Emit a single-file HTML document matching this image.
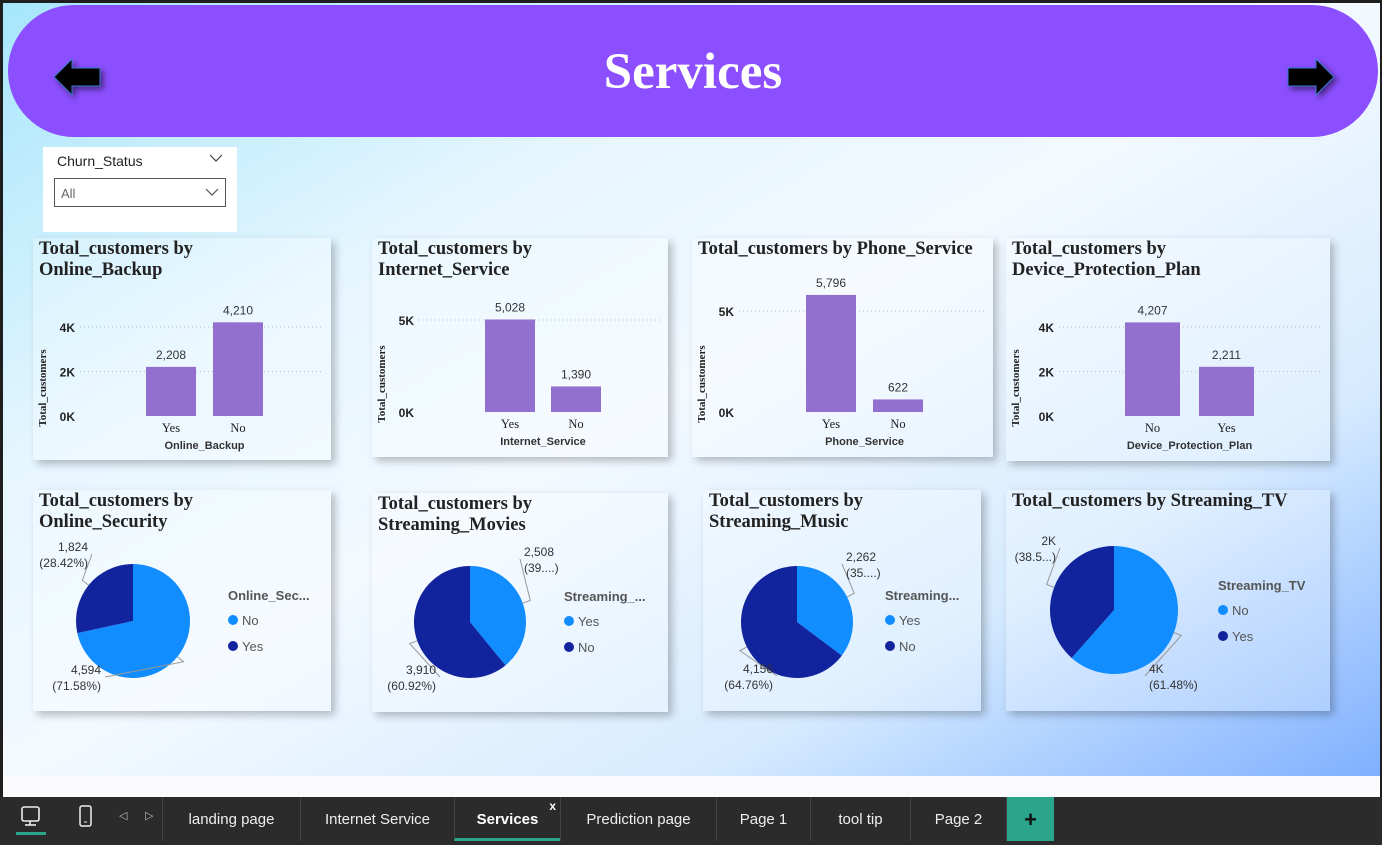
<!DOCTYPE html>
<html><head><meta charset="utf-8">
<style>
*{box-sizing:border-box;margin:0;padding:0}
body{width:1382px;height:845px;overflow:hidden;background:#1e1e1e;font-family:"Liberation Sans",sans-serif;position:relative}
#canvas{position:absolute;left:3px;top:3px;width:1377px;height:773px;background:linear-gradient(150deg,#a6e6fb 0%,#e6f6ff 30%,#f3f9ff 50%,#d6ebff 75%,#7fb0ff 100%)}
#strip{position:absolute;left:3px;top:776px;width:1377px;height:21px;background:#fbfbfd}
#header{position:absolute;left:8px;top:5px;width:1370px;height:132px;border-radius:66px;background:#8c4fff}
#header h1{position:absolute;left:0;right:0;top:38px;text-align:center;font-family:"Liberation Serif",serif;font-weight:bold;font-size:51px;color:#fff}
.arrow{position:absolute;top:52px;width:50px;height:40px;filter:drop-shadow(3px 3px 3px rgba(0,0,0,.5))}
.card{position:absolute;background:rgba(255,255,255,.25);box-shadow:4px 4px 8px rgba(0,0,0,.25)}
.card svg{position:absolute;left:0;top:0}
.title{position:absolute;left:6px;top:1px;font-family:"Liberation Serif",serif;font-weight:bold;font-size:18.5px;color:#222;line-height:21px;white-space:nowrap}
#slicer{position:absolute;left:43px;top:147px;width:194px;height:85px;background:#fff}
#tabs{position:absolute;left:0;top:797px;width:1382px;height:48px;background:#2b2b2b}
.tab{position:absolute;top:0;height:44px;border-left:1px solid #444;color:#eee;font-size:15px;text-align:center;line-height:46px}
</style></head><body>
<div id="canvas"></div>
<div id="strip"></div>
<div id="header">
<h1>Services</h1>
<svg class="arrow" style="left:44px" viewBox="0 0 50 40"><polygon points="2,20 20,2 20,11 48,11 48,29 20,29 20,38" fill="#000" stroke="#3a7bd5" stroke-width="1"/></svg>
<svg class="arrow" style="left:1278px" viewBox="0 0 50 40"><polygon points="48,20 30,2 30,11 2,11 2,29 30,29 30,38" fill="#000" stroke="#3a7bd5" stroke-width="1"/></svg>
</div>
<div id="slicer">
<div style="position:absolute;left:14px;top:6px;font-size:14px;color:#222">Churn_Status</div>
<svg style="position:absolute;left:166px;top:7px" width="14" height="9"><polyline points="1,1 7,7 13,1" fill="none" stroke="#444" stroke-width="1.2"/></svg>
<div style="position:absolute;left:11px;top:31px;width:172px;height:29px;border:1px solid #555;font-size:13px;color:#666;padding:7px 0 0 6px">All<svg style="position:absolute;right:6px;top:9px" width="14" height="9"><polyline points="1,1 7,7 13,1" fill="none" stroke="#555" stroke-width="1.2"/></svg></div>
</div>
<div id="cards"></div>
<div id="tabs">
<svg style="position:absolute;left:20px;top:8px" width="22" height="30"><rect x="2" y="2" width="17" height="14" rx="2" fill="none" stroke="#eee" stroke-width="1.6"/><line x1="10" y1="16" x2="10" y2="20" stroke="#eee" stroke-width="1.6"/><line x1="5" y1="20" x2="16" y2="20" stroke="#eee" stroke-width="1.6"/></svg>
<div style="position:absolute;left:16px;top:35px;width:30px;height:3px;background:#2aa58b"></div>
<svg style="position:absolute;left:78px;top:8px" width="16" height="24"><rect x="2" y="1" width="11" height="20" rx="2" fill="none" stroke="#eee" stroke-width="1.5"/><line x1="6" y1="17" x2="9" y2="17" stroke="#eee"/></svg>
<div style="position:absolute;left:119px;top:12px;color:#bbb;font-size:11px">&#9665;</div>
<div style="position:absolute;left:145px;top:12px;color:#bbb;font-size:11px">&#9655;</div>
<div class="tab" style="left:162px;width:138px">landing page</div>
<div class="tab" style="left:300px;width:154px">Internet Service</div>
<div class="tab" style="left:454px;width:106px;font-weight:bold;color:#fff;border-bottom:3px solid #2aa58b">Services<span style="position:absolute;right:4px;top:-14px;font-size:12px">x</span></div>
<div class="tab" style="left:560px;width:156px">Prediction page</div>
<div class="tab" style="left:716px;width:94px">Page 1</div>
<div class="tab" style="left:810px;width:100px">tool tip</div>
<div class="tab" style="left:910px;width:96px">Page 2</div>
<div class="tab" style="left:1006px;width:48px;background:#2aa58b;font-size:22px;font-weight:bold;color:#111;height:44px">+</div>
</div>
<script>
// Bar chart data
const barTitles=[["Total_customers by","Online_Backup"],["Total_customers by","Internet_Service"],["Total_customers by Phone_Service"],["Total_customers by","Device_Protection_Plan"]];
const barAxisTitles=["Online_Backup","Internet_Service","Phone_Service","Device_Protection_Plan"];
const barCats=[["Yes","No"],["Yes","No"],["Yes","No"],["No","Yes"]];
const barValues=[[2208,4210],[5028,1390],[5796,622],[4207,2211]];
const barTicks=[[0,2000,4000],[0,5000],[0,5000],[0,2000,4000]];
const barTickLabels=[["0K","2K","4K"],["0K","5K"],["0K","5K"],["0K","2K","4K"]];
// Pie data
const pieTitles=[["Total_customers by","Online_Security"],["Total_customers by","Streaming_Movies"],["Total_customers by","Streaming_Music"],["Total_customers by Streaming_TV"]];
const pieLegendTitles=["Online_Sec...","Streaming_...","Streaming...","Streaming_TV"];
const pieCats=[["No","Yes"],["Yes","No"],["Yes","No"],["No","Yes"]];
const pieValues=[[4594,1824],[2508,3910],[2262,4156],[3948,2470]];
const pieLabels=[[["4,594","(71.58%)"],["1,824","(28.42%)"]],[["2,508","(39....)"],["3,910","(60.92%)"]],[["2,262","(35....)"],["4,156","(64.76%)"]],[["4K","(61.48%)"],["2K","(38.5...)"]]];

const NS="http://www.w3.org/2000/svg";
const cardsEl=document.getElementById('cards');
function mk(tag,attrs,parent){const e=document.createElementNS(NS,tag);for(const k in attrs)e.setAttribute(k,attrs[k]);parent.appendChild(e);return e;}
function txt(parent,x,y,s,attrs){const t=mk('text',Object.assign({x:x,y:y},attrs),parent);t.textContent=s;return t;}
function card(x,y,w,h,name,title){
  const d=document.createElement('div');d.className='card';
  d.style.cssText=`left:${x}px;top:${y}px;width:${w}px;height:${h}px`;
  
  
  const t=document.createElement('div');t.className='title';t.innerHTML=title.join('<br>');
  
  
  d.appendChild(t);cardsEl.appendChild(d);
  const s=document.createElementNS(NS,'svg');s.setAttribute('width',w);s.setAttribute('height',h);d.appendChild(s);
  return s;
}
const barBoxes=[{x:33,y:238,w:298,h:222,base:178,pxPerUnit:89/4000,x0:113,bw:50,gap:17,ly:13,tx:42},
{x:372,y:238,w:296,h:219,base:174,pxPerUnit:92/5000,x0:113,bw:50,gap:16,ly:13,tx:42},
{x:692,y:238,w:301,h:219,base:174,pxPerUnit:101/5000,x0:114,bw:50,gap:17,ly:13,tx:42},
{x:1006,y:238,w:324,h:223,base:178,pxPerUnit:89/4000,x0:119,bw:55,gap:19,ly:13,tx:48}];
barBoxes.forEach((b,i)=>{
  const s=card(b.x,b.y,b.w,b.h,'bar-chart-'+barAxisTitles[i].toLowerCase().replace(/_/g,'-'),barTitles[i]);
  const yS=v=>b.base-v*b.pxPerUnit;
  barTicks[i].forEach((t,j)=>{
    if(t>0){mk('line',{x1:b.tx+5,x2:b.w-8,y1:yS(t),y2:yS(t),stroke:'#bbb','stroke-dasharray':'1,3'},s);}
    const tl=txt(s,b.tx,yS(t)+5,barTickLabels[i][j],{'text-anchor':'end','font-size':12,'font-weight':'bold',fill:'#222'});
    
    
  });
  const yt=txt(s,0,0,'Total_customers',{transform:`translate(${b.ly},${b.base-28}) rotate(-90)`,'text-anchor':'middle','font-size':11,'font-weight':'bold','font-family':'Liberation Serif',fill:'#222'});
  
  
  barValues[i].forEach((v,j)=>{
    const x=b.x0+j*(b.bw+b.gap);
    const r=mk('rect',{x:x,y:yS(v),width:b.bw,height:v*b.pxPerUnit,fill:'#9370d0'},s);
    
    
    const vl=txt(s,x+b.bw/2,yS(v)-8,v.toLocaleString('en-US'),{'text-anchor':'middle','font-size':12,fill:'#333'});
    
    
    const cl=txt(s,x+b.bw/2,b.base+16,barCats[i][j],{'text-anchor':'middle','font-size':12.5,'font-family':'Liberation Serif',fill:'#222'});
    
    
  });
  const xt=txt(s,b.x0+b.bw+b.gap/2,b.base+33,barAxisTitles[i],{'text-anchor':'middle','font-size':11,'font-weight':'bold',fill:'#333'});
  
  
});
const pieBoxes=[{x:33,y:490,w:298,h:221,cx:100,cy:131,r:57,lx:195,ly:110,lbl:[[68,187,'end'],[55,64,'end']]},
{x:372,y:493,w:296,h:219,cx:98,cy:129,r:56,lx:192,ly:108,lbl:[[152,66,'start'],[64,184,'end']]},
{x:703,y:490,w:278,h:221,cx:94,cy:132,r:56,lx:182,ly:110,lbl:[[143,74,'start'],[70,186,'end']]},
{x:1006,y:490,w:324,h:221,cx:108,cy:120,r:64,lx:212,ly:100,lbl:[[143,186,'start'],[50,58,'end']]}];
const colors=['#118dff','#12239e'];
pieBoxes.forEach((p,i)=>{
  const s=card(p.x,p.y,p.w,p.h,'pie-chart-'+pieLegendTitles[i].toLowerCase().replace(/[_.]/g,''),pieTitles[i]);
  const tot=pieValues[i].reduce((a,b)=>a+b,0);let a0=0;
  pieValues[i].forEach((v,j)=>{
    const a1=a0+v/tot*2*Math.PI;
    const P=a=>[p.cx+p.r*Math.sin(a),p.cy-p.r*Math.cos(a)];
    const [x0,y0]=P(a0),[x1,y1]=P(a1);
    const path=mk('path',{d:`M${p.cx},${p.cy}L${x0},${y0}A${p.r},${p.r} 0 ${a1-a0>Math.PI?1:0} 1 ${x1},${y1}Z`,fill:colors[j]},s);
    
    
    const mid=(a0+a1)/2;const [ex,ey]=[p.cx+(p.r+8)*Math.sin(mid),p.cy-(p.r+8)*Math.cos(mid)];
    const [lx,ly,anc]=p.lbl[j];
    const [mx,my]=P(mid);
    mk('polyline',{points:`${mx},${my} ${ex},${ey} ${anc==='end'?lx+4:lx-4},${ly}`,fill:'none',stroke:'#999','stroke-width':1},s);
    const lbl=txt(s,lx,ly-3,pieLabels[i][j][0],{'text-anchor':anc,'font-size':12,fill:'#333'});
    
    
    const lbl2=txt(s,lx,ly+13,pieLabels[i][j][1],{'text-anchor':anc,'font-size':12,fill:'#333'});
    
    
    a0=a1;
  });
  const lt=txt(s,p.lx,p.ly,pieLegendTitles[i],{'font-size':13,'font-weight':'bold',fill:'#555'});
  
  
  pieCats[i].forEach((c,j)=>{
    const y=p.ly+24+j*26;
    mk('circle',{cx:p.lx+5,cy:y-4,r:5,fill:colors[j]},s);
    const e=txt(s,p.lx+14,y+1,c,{'font-size':13,fill:'#555'});
    
    
  });
});
</script>
</body></html>
